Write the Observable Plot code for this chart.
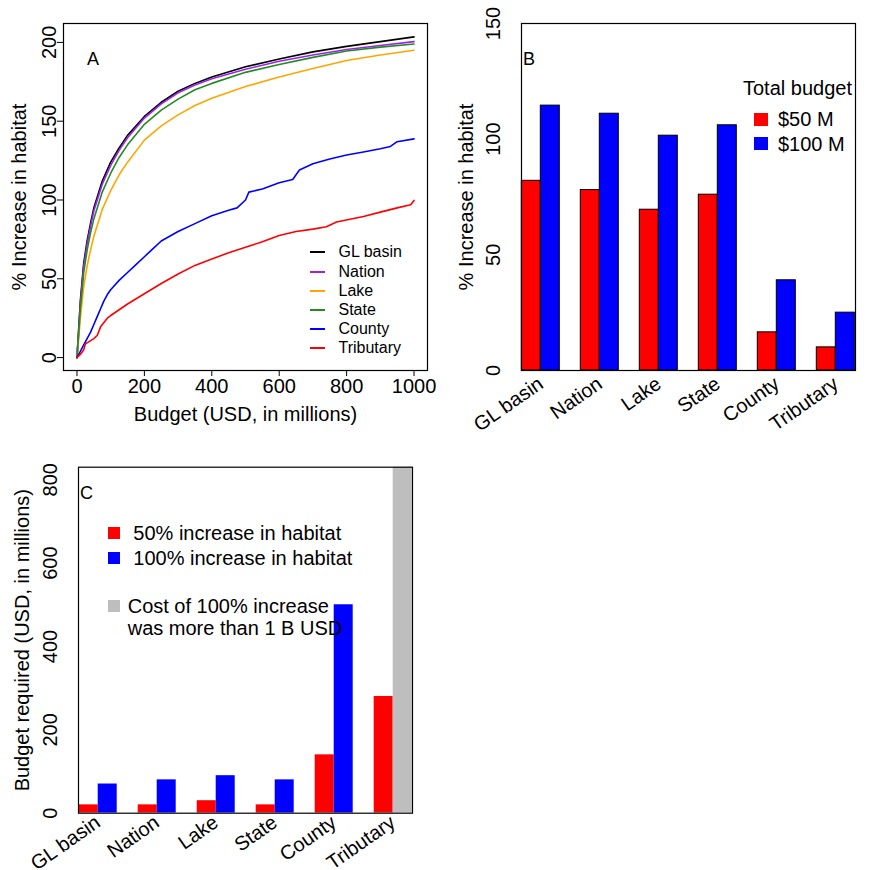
<!DOCTYPE html>
<html><head><meta charset="utf-8">
<script src="https://cdn.jsdelivr.net/npm/d3@7"></script>
<script src="https://cdn.jsdelivr.net/npm/@observablehq/plot@0.6"></script>
<style>
body{margin:0;background:#fff;}
#root{position:relative;width:873px;height:870px;background:#fff;font-family:"Liberation Sans",Arial,sans-serif;color:#000;overflow:hidden}
.abs{position:absolute;white-space:nowrap;line-height:1;}
.mid{transform:translateY(-50%);}
.panel{position:absolute;}
</style></head><body><div id="root"></div>
<script>
const FONT = '"Liberation Sans", Arial, sans-serif';

// ---------- Panel A data ----------
const seriesNames = ["GL basin", "Nation", "Lake", "State", "County", "Tributary"];
const seriesColors = ["#000000", "#a020f0", "#ffa500", "#228b22", "#0000ff", "#ff0000"];
const sharedBudget = [0, 5, 10, 20, 30, 40, 50, 75, 100, 125, 150, 200, 250, 300, 350, 400, 500, 600, 700, 800, 900, 1000];
const glBasin = [0, 18, 36, 60, 74, 85, 95, 112, 124, 133, 141, 153, 162, 169, 174, 178, 184.5, 189.5, 194, 197.5, 200.5, 203.5];
const nation  = [0, 17, 34, 58, 72, 83, 93, 110, 122, 131.5, 139.5, 152, 161, 168, 173, 177, 183, 188, 192, 195.5, 198, 200.5];
const lake    = [0, 12, 25, 45, 58, 68, 77, 94, 106, 116, 124, 138, 147, 154, 160, 164.5, 172, 178, 183.5, 188.5, 192, 195];
const state   = [0, 15, 31, 54, 68, 79, 88, 105, 117, 127, 135, 148, 157, 164, 170, 174, 181, 186, 190.5, 194.5, 197, 199];
const countyBudget = [0, 10, 20, 30, 40, 50, 60, 70, 80, 90, 100, 125, 150, 175, 200, 225, 250, 275, 300, 350, 400, 450, 475, 500, 510, 550, 600, 640, 660, 700, 750, 800, 850, 900, 930, 950, 1000];
const county = [0, 4, 8, 12, 16, 21, 26, 31, 36, 40, 43, 49, 54, 59, 64, 69, 74, 77, 80, 85, 90, 93.5, 95, 100, 105, 107, 111, 113, 119, 123, 126, 128.5, 130.5, 132.5, 134, 137, 138.8];
const tribBudget = [0, 10, 20, 25, 50, 60, 70, 90, 100, 150, 200, 250, 300, 350, 400, 450, 500, 550, 600, 650, 700, 740, 770, 850, 900, 950, 990, 1000];
const tributary = [0, 2, 5, 8.7, 12, 14, 19.5, 25, 26.7, 34, 40.5, 47, 53, 58.5, 62.5, 66.5, 70, 73.5, 77.5, 80, 81.5, 83, 86, 89.5, 92.3, 95, 97, 99.7];
const xTicksA = [0, 200, 400, 600, 800, 1000];
const yTicksA = [0, 50, 100, 150, 200];

// ---------- Panel B data ----------
const regions = ["GL basin", "Nation", "Lake", "State", "County", "Tributary"];
const budgets = ["$50 M", "$100 M"];
const increase50M  = [82, 78, 69.5, 76, 16.5, 10];
const increase100M = [114.5, 111, 101.5, 106, 39, 25];
const yTicksB = [0, 50, 100, 150];

// ---------- Panel C data ----------
const targets = ["50%", "100%"];
const kinds = ["50% increase in habitat", "100% increase in habitat", "Cost of 100% increase was more than 1 B USD"];
const kindColors = ["#ff0000", "#0000ff", "#bebebe"];
const cost50pct  = [20, 20, 30, 20, 140, 280];
const cost100pct = [70, 80, 90, 80, 500, 1000];
const cost100Over1B = [false, false, false, false, false, true];
const yTicksC = [0, 200, 400, 600, 800];

const root = document.getElementById("root");
function place(node, left, top) {
  const d = document.createElement("div");
  d.className = "panel";
  d.style.left = left + "px"; d.style.top = top + "px";
  d.appendChild(node); root.appendChild(d);
}
function text(str, left, top, size, cls = "abs mid") {
  const d = document.createElement("div");
  d.className = cls; d.textContent = str;
  d.style.left = left + "px"; d.style.top = top + "px"; d.style.fontSize = size + "px";
  root.appendChild(d); return d;
}
function swatchLine(color, left, top, w) {
  const d = document.createElement("div");
  d.className = "abs";
  Object.assign(d.style, {left: left + "px", top: (top - 1) + "px", width: w + "px", height: "2px", background: color});
  root.appendChild(d);
}
function swatchBox(color, left, top, w, h) {
  const d = document.createElement("div");
  d.className = "abs";
  Object.assign(d.style, {left: left + "px", top: (top - h / 2) + "px", width: w + "px", height: h + "px", background: color});
  root.appendChild(d);
}
const style = {fontFamily: FONT, fontSize: "20px", color: "black", background: "transparent", overflow: "visible"};
const fmt = d => String(d);

// ---------- Panel A ----------
const seriesY = [glBasin, nation, lake, state, county, tributary];
const seriesX = [sharedBudget, sharedBudget, sharedBudget, sharedBudget, countyBudget, tribBudget];
const lineRows = seriesNames.flatMap((s, k) => seriesX[k].map((b, i) => ({series: s, budget: b, pct: seriesY[k][i]})));

const plotA = Plot.plot({
  width: 440, height: 435,
  marginTop: 23, marginRight: 13, marginBottom: 65, marginLeft: 63,
  style,
  x: {domain: [-40, 1040]},
  y: {domain: [-8.2, 212]},
  color: {domain: seriesNames, range: seriesColors},
  marks: [
    Plot.line(lineRows, {x: "budget", y: "pct", z: "series", stroke: "series", strokeWidth: 1.6}),
    Plot.frame({stroke: "black", strokeWidth: 1.2}),
    Plot.axisX({ticks: xTicksA, tickFormat: fmt, tickSize: 6, tickPadding: 2, label: "Budget (USD, in millions)", labelAnchor: "center", labelOffset: 50, labelArrow: "none"}),
    Plot.axisY({ticks: yTicksA, tickFormat: fmt, tickSize: 6, tickPadding: 2, tickRotate: -90, label: "% Increase in habitat", labelAnchor: "center", labelOffset: 52, labelArrow: "none"})
  ]
});
place(plotA, 0, 0);

// ---------- Panel B ----------
const rowsB = regions.flatMap((r, i) => [
  {region: r, budget: budgets[0], value: increase50M[i]},
  {region: r, budget: budgets[1], value: increase100M[i]}
]);
const plotB = Plot.plot({
  width: 433, height: 435,
  marginTop: 23, marginRight: 3, marginBottom: 65, marginLeft: 66.7,
  style,
  fx: {domain: regions, paddingInner: 1 / 3, paddingOuter: 0.21},
  x: {domain: budgets, padding: 0, axis: null},
  y: {domain: [0, 150]},
  color: {domain: budgets, range: ["#ff0000", "#0000ff"]},
  marks: [
    Plot.barY(rowsB, {fx: "region", x: "budget", y: "value", fill: "budget", stroke: "black", strokeWidth: 1}),
    Plot.frame({facet: "super", stroke: "black", strokeWidth: 1.2}),
    Plot.axisFx({anchor: "bottom", tickSize: 0, tickPadding: 11, tickRotate: -35, label: null}),
    Plot.axisY({ticks: yTicksB, tickFormat: fmt, tickSize: 0, tickPadding: 22, tickRotate: -90, label: "% Increase in habitat", labelAnchor: "center", labelOffset: 63, labelArrow: "none"})
  ]
});
place(plotB, 440, 0);

// ---------- Panel C ----------
const rowsC = regions.flatMap((r, i) => [
  {region: r, target: targets[0], cost: cost50pct[i], kind: kinds[0]},
  {region: r, target: targets[1], cost: cost100pct[i], kind: cost100Over1B[i] ? kinds[2] : kinds[1]}
]);
const plotC = Plot.plot({
  width: 440, height: 430,
  marginTop: 26.7, marginRight: 13.3, marginBottom: 57.3, marginLeft: 63.3,
  style,
  fx: {domain: regions, paddingInner: 1 / 3, paddingOuter: 0.21},
  x: {domain: targets, padding: 0, axis: null},
  y: {domain: [0, 830]},
  color: {domain: kinds, range: kindColors},
  marks: [
    Plot.barY(rowsC, {fx: "region", x: "target", y: "cost", fill: "kind", clip: true}),
    Plot.frame({facet: "super", stroke: "black", strokeWidth: 1.2}),
    Plot.axisFx({anchor: "bottom", tickSize: 0, tickPadding: 7, tickRotate: -35, label: null}),
    Plot.axisY({ticks: yTicksC, tickFormat: fmt, tickSize: 0, tickPadding: 22, tickRotate: -90, label: "Budget required (USD, in millions)", labelAnchor: "center", labelOffset: 64, labelArrow: "none"})
  ]
});
place(plotC, 0, 440);

// ---------- Panel letters ----------
text("A", 87, 59, 18);
text("B", 523, 59, 18);
text("C", 80, 493, 18);

// ---------- Legend A ----------
const legendRowsA = [252.3, 271.5, 290.7, 310, 329.2, 348.4];
seriesNames.forEach((s, i) => {
  swatchLine(seriesColors[i], 309.5, legendRowsA[i], 15);
  text(s, 338.5, legendRowsA[i], 16);
});

// ---------- Legend B ----------
text("Total budget", 743, 88, 20);
[119, 143.5].forEach((y, i) => {
  swatchBox(["#ff0000", "#0000ff"][i], 753.5, y, 14, 13);
  text(budgets[i], 778, y, 20);
});

// ---------- Legend C ----------
[533, 557.5].forEach((y, i) => {
  swatchBox(kindColors[i], 108.3, y, 12, 12);
  text(kinds[i], 133.3, y, 20);
});
swatchBox(kindColors[2], 108.3, 606, 12, 12);
text("Cost of 100% increase", 127.7, 605.7, 20);
text("was more than 1 B USD", 127.7, 627.7, 20);
</script></body></html>
